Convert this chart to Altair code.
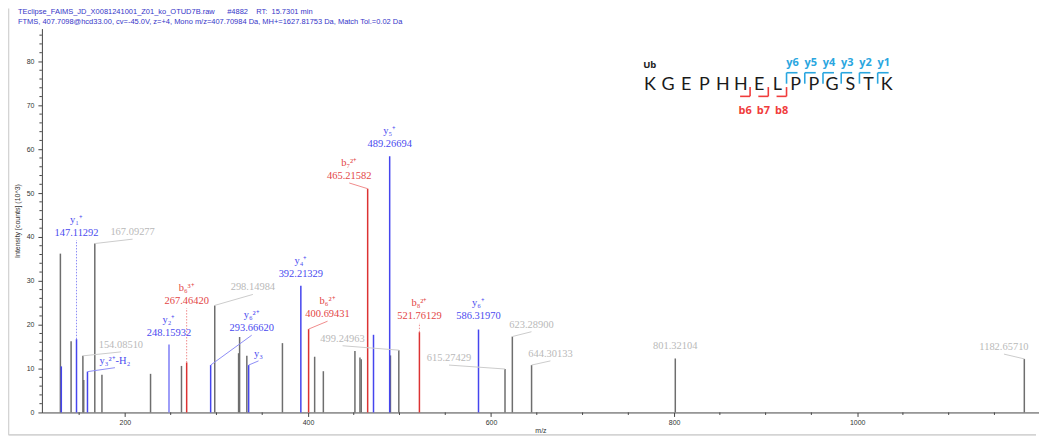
import altair as alt
import pandas as pd

# ---------------- text ----------------
NB = "\u00a0"
HEADER_1 = "TEclipse_FAIMS_JD_X0081241001_Z01_ko_OTUD7B.raw" + NB * 6 + "#4882" + NB * 4 + "RT:" + NB * 2 + "15.7301 min"
HEADER_2 = "FTMS, 407.7098@hcd33.00, cv=-45.0V, z=+4, Mono m/z=407.70984 Da, MH+=1627.81753 Da, Match Tol.=0.02 Da"
X_TITLE = "m/z"
Y_TITLE = "Intensity [counts] (10^3)"
PEPTIDE = ["K", "G", "E", "P", "H", "H", "E", "L", "P", "P", "G", "S", "T", "K"]
PROTEIN = "Ub"
Y_FRAGS = ["y6", "y5", "y4", "y3", "y2", "y1"]
B_FRAGS = ["b6", "b7", "b8"]

# ---------------- axis ticks ----------------
x_major = [200, 400, 600, 800, 1000]
x_minor = [150, 250, 300, 350, 450, 500, 550, 650, 700, 750, 850, 900, 950, 1050, 1100, 1150]
y_major = [0, 10, 20, 30, 40, 50, 60, 70, 80]
y_minor = [2, 4, 6, 8, 12, 14, 16, 18, 22, 24, 26, 28, 32, 34, 36, 38, 42, 44, 46, 48,
           52, 54, 56, 58, 62, 64, 66, 68, 72, 74, 76, 78, 82, 84, 86]

# ---------------- peaks (m/z, intensity x10^3) ----------------
other_mz = [129.5, 141.2, 154.08510, 155.0, 167.09277, 174.9, 228.0, 261.8, 298.14984,
            324.2, 325.3, 333.2, 372.1, 407.3, 416.8, 451.3, 456.8, 458.2, 490.1,
            499.24963, 615.27429, 623.28900, 644.30133, 801.32104, 1182.65710]
other_int = [36.2, 16.2, 12.9, 7.4, 38.5, 8.6, 8.8, 10.6, 24.4,
             13.5, 17.2, 12.9, 15.8, 12.7, 9.4, 14.0, 12.5, 12.1, 13.0,
             14.2, 9.9, 17.3, 10.8, 12.3, 12.2]
y_mz = [130.5, 147.11292, 159.09, 248.15932, 293.66620, 335.19, 392.21329, 471.6, 489.26694, 586.31970]
y_int = [10.5, 16.7, 9.3, 15.5, 10.8, 10.8, 28.9, 17.7, 58.4, 18.9]
b_mz = [267.46420, 400.69431, 465.21582, 521.76129]
b_int = [11.4, 19.0, 51.0, 18.3]

# ---------------- peak annotations ----------------
lab_num = ["147.11292", "167.09277", "154.08510", "", "248.15932", "267.46420", "298.14984",
           "293.66620", "", "392.21329", "400.69431", "465.21582", "489.26694", "499.24963",
           "521.76129", "586.31970", "615.27429", "623.28900", "644.30133", "801.32104", "1182.65710"]
lab_ion = ["y\u2081\u207a", "", "", "y\u2083\u00b2\u207a-H\u2082", "y\u2082\u207a", "b\u2086\u00b3\u207a", "",
           "y\u2086\u00b2\u207a", "y\u2083", "y\u2084\u207a", "b\u2086\u00b2\u207a", "b\u2087\u00b2\u207a",
           "y\u2085\u207a", "", "b\u2088\u00b2\u207a", "y\u2086\u207a", "", "", "", "", ""]
lab_kind = ["y", "other", "other", "y", "y", "b", "other", "y", "y", "y", "b", "b", "y", "other",
            "b", "y", "other", "other", "other", "other", "other"]
lab_peak_mz = [147.11292, 167.09277, 154.08510, 159.09, 248.15932, 267.46420, 298.14984,
               293.66620, 335.19, 392.21329, 400.69431, 465.21582, 489.26694, 499.24963,
               521.76129, 586.31970, 615.27429, 623.28900, 644.30133, 801.32104, 1182.65710]
lab_peak_int = [16.7, 38.5, 12.9, 9.3, 15.5, 11.4, 24.4, 10.8, 10.8, 28.9, 19.0, 51.0, 58.4, 14.2,
                18.3, 18.9, 9.9, 17.3, 10.8, 12.3, 12.2]
# label anchor points (layout) and connector style
lab_anchor_mz = [147.11292, 208.4, 195.6, 189.1, 248.15932, 267.46420, 339.8, 338.5, 346.0,
                 392.21329, 421.4, 445.1, 489.26694, 437.8, 521.76129, 586.31970, 554.1,
                 644.2, 664.9, 801.32104, 1160.4]
lab_anchor_int = [39.3, 39.5, 13.8, 10.2, 16.6, 23.8, 26.9, 17.6, 11.75, 29.9, 20.8, 52.3, 59.7,
                  15.2, 20.4, 20.4, 10.8, 18.4, 11.75, 13.6, 13.3]
lab_conn = ["dot", "solid", "solid", "solid", "none", "dot", "solid", "solid", "solid", "none",
            "solid", "solid", "none", "solid", "dot", "none", "solid", "solid", "solid", "none", "solid"]

# ---------------- styles ----------------
PEAK_COL = {"other": "#6e6e6e", "y": "#4545ee", "b": "#dc3232"}
TEXT_COL = {"other": "#b9b9b9", "y": "#4a4aef", "b": "#e34545"}
CONN_COL = {"other": "#cccccc", "y": "#8e8ef6", "b": "#f08c8c"}
AXIS_COL = "#444444"
X_DOMAIN = [109.3, 1198.7]
Y_DOMAIN = [0, 87.5]
W, H = 1000, 385
SERIF = "Liberation Serif"
SANS = "Liberation Sans"

peaks = pd.DataFrame({
    "mz": other_mz + y_mz + b_mz,
    "intensity": other_int + y_int + b_int,
    "kind": ["other"] * len(other_mz) + ["y"] * len(y_mz) + ["b"] * len(b_mz),
})
peaks["zero"] = 0.0
peaks["color"] = peaks["kind"].map(PEAK_COL)
peaks.loc[peaks["mz"] == 248.15932, "color"] = "#7d7df6"

labels = pd.DataFrame({
    "num": lab_num, "ion": lab_ion, "kind": lab_kind,
    "pmz": lab_peak_mz, "pint": lab_peak_int,
    "lx": lab_anchor_mz, "ly": lab_anchor_int, "conn": lab_conn,
})
labels["tcolor"] = labels["kind"].map(TEXT_COL)
labels["ccolor"] = labels["kind"].map(CONN_COL)

xs = alt.Scale(domain=X_DOMAIN, nice=False, zero=False)
ys = alt.Scale(domain=Y_DOMAIN, nice=False)

x_axis = alt.Axis(
    title=X_TITLE, values=x_major, format="d", tickSize=4,
    grid=False, labelFont=SANS, labelFontSize=7, labelColor="#333333", titleFont=SANS,
    titleFontSize=7, titleFontWeight="normal", titleColor="#333333", tickColor=AXIS_COL,
    domainColor=AXIS_COL, labelPadding=2, labelFlush=False, labelOverlap=False,
    titleY=20, titleBaseline="alphabetic",
)
y_axis = alt.Axis(
    title=Y_TITLE, values=y_major, format="d", tickSize=4,
    grid=False, labelFont=SANS, labelFontSize=7, labelColor="#333333", titleFont=SANS,
    titleFontSize=7, titleFontWeight="normal", titleColor="#333333", tickColor=AXIS_COL,
    domainColor=AXIS_COL, labelPadding=4, titlePadding=6, labelFlush=False, labelOverlap=False,
)

base_peaks = alt.Chart(peaks)
gray_peaks = base_peaks.transform_filter("datum.kind === 'other'").mark_rule(strokeWidth=1.5).encode(
    x=alt.X("mz:Q", scale=xs, axis=x_axis),
    y=alt.Y("intensity:Q", scale=ys, axis=y_axis),
    y2="zero:Q",
    color=alt.Color("color:N", scale=None),
)
ion_peaks = base_peaks.transform_filter("datum.kind !== 'other'").mark_rule(strokeWidth=1.5).encode(
    x=alt.X("mz:Q", scale=xs),
    y=alt.Y("intensity:Q", scale=ys),
    y2="zero:Q",
    color=alt.Color("color:N", scale=None),
)

# minor ticks, placed through the axis scales
x_minor_ticks = alt.Chart(pd.DataFrame({"v": x_minor})).mark_rule(color=AXIS_COL, strokeWidth=1).encode(
    x=alt.X("v:Q", scale=xs), y=alt.value(H), y2=alt.value(H + 2.5))
y_minor_ticks = alt.Chart(pd.DataFrame({"v": y_minor})).mark_rule(color=AXIS_COL, strokeWidth=1).encode(
    y=alt.Y("v:Q", scale=ys), x=alt.value(-2.5), x2=alt.value(0))

lab_base = alt.Chart(labels)
conn_solid = lab_base.transform_filter("datum.conn === 'solid'").mark_rule(strokeWidth=1).encode(
    x=alt.X("pmz:Q", scale=xs), y=alt.Y("pint:Q", scale=ys), x2="lx:Q", y2="ly:Q",
    color=alt.Color("ccolor:N", scale=None),
)
conn_dot = lab_base.transform_filter("datum.conn === 'dot'").mark_rule(strokeWidth=1, strokeDash=[1.5, 1.5]).encode(
    x=alt.X("pmz:Q", scale=xs), y=alt.Y("pint:Q", scale=ys), x2="lx:Q", y2="ly:Q",
    color=alt.Color("ccolor:N", scale=None),
)
num_text = lab_base.transform_filter("datum.num !== ''").mark_text(
    font=SERIF, fontSize=10.5, baseline="alphabetic", align="center", dy=-4
).encode(
    x=alt.X("lx:Q", scale=xs), y=alt.Y("ly:Q", scale=ys), text="num:N",
    color=alt.Color("tcolor:N", scale=None),
)
ion_text_top = lab_base.transform_filter("datum.ion !== '' && datum.num !== ''").mark_text(
    font=SERIF, fontSize=10.5, baseline="alphabetic", align="center", dy=-17
).encode(
    x=alt.X("lx:Q", scale=xs), y=alt.Y("ly:Q", scale=ys), text="ion:N",
    color=alt.Color("tcolor:N", scale=None),
)
ion_text_alone = lab_base.transform_filter("datum.ion !== '' && datum.num === ''").mark_text(
    font=SERIF, fontSize=10.5, baseline="alphabetic", align="center", dy=-4
).encode(
    x=alt.X("lx:Q", scale=xs), y=alt.Y("ly:Q", scale=ys), text="ion:N",
    color=alt.Color("tcolor:N", scale=None),
)

data_layer = alt.layer(gray_peaks, ion_peaks, x_minor_ticks, y_minor_ticks, conn_solid, conn_dot,
                       num_text, ion_text_top, ion_text_alone)

# ---------------- decorations in pixel space (relative to plot origin) ----------------
LET_X0, LET_DX, LET_BASE = 609.7, 18.28, 61.7
letters = pd.DataFrame({"t": PEPTIDE, "px": [LET_X0 + i * LET_DX for i in range(len(PEPTIDE))],
                        "py": [LET_BASE] * len(PEPTIDE)})

def bnd(k):
    return LET_X0 + (k + 0.5) * LET_DX

seg_rows = []
frag_rows = []
for j, name in enumerate(Y_FRAGS):
    bx = bnd(7 + j)
    seg_rows.append({"px": bx, "py": 55.3, "px2": bx, "py2": 44.3, "c": "#2aa6df"})
    seg_rows.append({"px": bx, "py": 44.3, "px2": bx + 11, "py2": 44.3, "c": "#2aa6df"})
    frag_rows.append({"t": name, "px": bx + 6, "py": 38, "c": "#2aa6df"})
for j, name in enumerate(B_FRAGS):
    bx = bnd(5 + j)
    seg_rows.append({"px": bx, "py": 58.7, "px2": bx, "py2": 68.0, "c": "#f03c3c"})
    seg_rows.append({"px": bx - 10, "py": 68.0, "px2": bx, "py2": 68.0, "c": "#f03c3c"})
    frag_rows.append({"t": name, "px": bx - 5, "py": 86, "c": "#f03c3c"})
# light frame
seg_rows.append({"px": -33.5, "py": -20, "px2": -33.5, "py2": 407.5, "c": "#d4d4d4"})
seg_rows.append({"px": -33.5, "py": 407.5, "px2": 997, "py2": 407.5, "c": "#d4d4d4"})
segs = pd.DataFrame(seg_rows)
frags = pd.DataFrame(frag_rows)
headers = pd.DataFrame({"t": [HEADER_1, HEADER_2], "px": [-24, -24], "py": [-14.5, -4.5]})
prot = pd.DataFrame({"t": [PROTEIN], "px": [603], "py": [40]})

px_x = dict(scale=None, axis=None)
seg_layer = alt.Chart(segs).mark_rule(strokeWidth=1.6).encode(
    x=alt.X("px:Q", **px_x), y=alt.Y("py:Q", **px_x), x2="px2:Q", y2="py2:Q",
    color=alt.Color("c:N", scale=None),
)
letter_layer = alt.Chart(letters).mark_text(font="Lato", fontSize=18, baseline="alphabetic",
                                            align="center", color="#1a1a1a").encode(
    x=alt.X("px:Q", **px_x), y=alt.Y("py:Q", **px_x), text="t:N")
frag_layer = alt.Chart(frags).mark_text(font="Open Sans", fontSize=11, fontWeight="bold",
                                        baseline="alphabetic", align="center").encode(
    x=alt.X("px:Q", **px_x), y=alt.Y("py:Q", **px_x), text="t:N",
    color=alt.Color("c:N", scale=None))
prot_layer = alt.Chart(prot).mark_text(font="Open Sans", fontSize=9.5, fontWeight="bold",
                                       baseline="alphabetic", align="left", color="#222222").encode(
    x=alt.X("px:Q", **px_x), y=alt.Y("py:Q", **px_x), text="t:N")
header_layer = alt.Chart(headers).mark_text(font=SANS, fontSize=7.5, baseline="alphabetic",
                                            align="left", color="#3535c8").encode(
    x=alt.X("px:Q", **px_x), y=alt.Y("py:Q", **px_x), text="t:N")

anno_layer = alt.layer(seg_layer, letter_layer, frag_layer, prot_layer, header_layer)

chart = alt.layer(data_layer, anno_layer).resolve_scale(
    x="independent", y="independent", color="independent"
).properties(
    width=W, height=H,
    autosize=alt.AutoSizeParams(type="none"),
    padding={"left": 34, "top": 20, "right": 0, "bottom": 23},
    background="white",
).configure_view(stroke=None)

chart.save("out.html", embed_options={"renderer": "svg", "actions": False})
